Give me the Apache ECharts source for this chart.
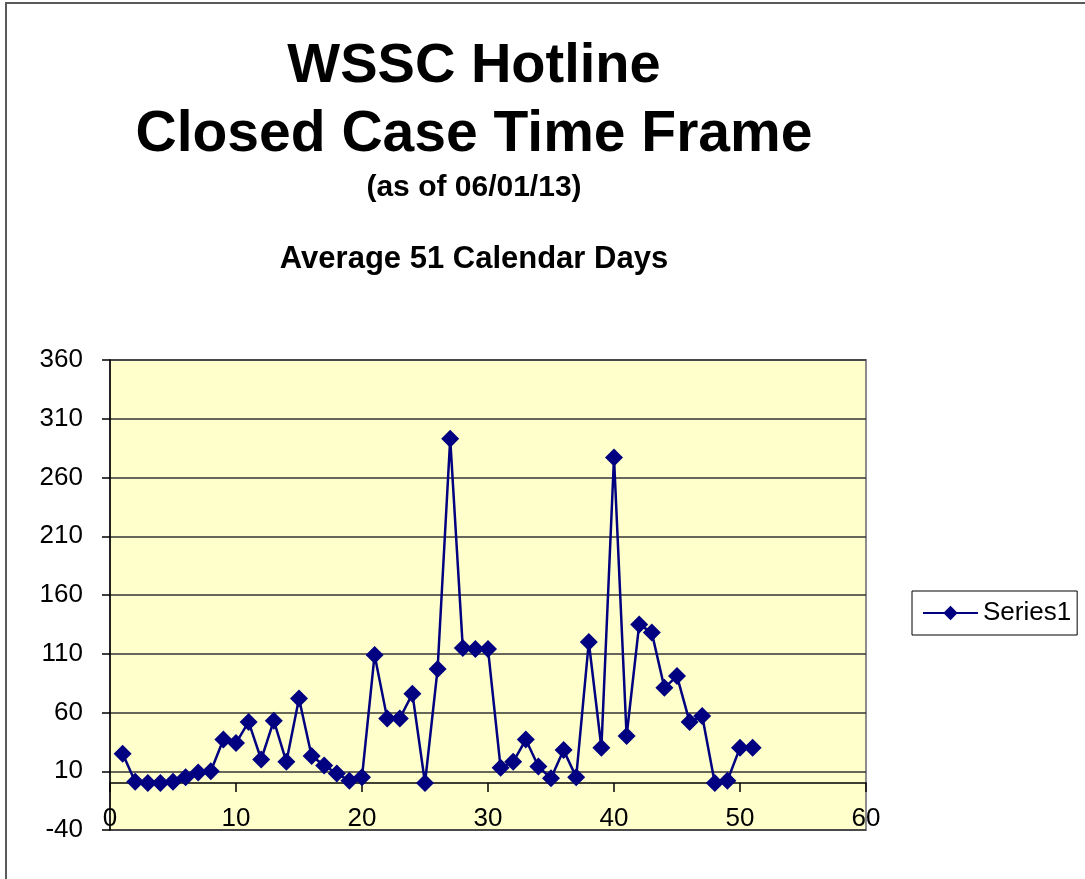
<!DOCTYPE html>
<html>
<head>
<meta charset="utf-8">
<script src="https://cdn.jsdelivr.net/npm/echarts@6/dist/echarts.min.js"></script>
<style>
  html, body { margin: 0; padding: 0; background: #fff; }
  #chartBox { width: 1085px; height: 879px; }
</style>
</head>
<body>
<div id="chartBox"></div>
<script>
// case number (x) and closed-case days (y)
const caseNo = [1, 2, 3, 4, 5, 6, 7, 8, 9, 10, 11, 12, 13, 14, 15, 16, 17, 18, 19, 20,
  21, 22, 23, 24, 25, 26, 27, 28, 29, 30, 31, 32, 33, 34, 35, 36, 37, 38, 39, 40,
  41, 42, 43, 44, 45, 46, 47, 48, 49, 50, 51]
const days = [25, 1, 0, 0, 1, 5, 9, 10, 37, 34, 52, 20, 53, 18, 72, 23, 15, 8, 2, 5,
  109, 55, 55, 76, 0, 97, 293, 115, 114, 114, 13, 18, 37, 14, 4, 28, 5, 120, 30, 277,
  40, 135, 128, 81, 91, 52, 57, 0, 2, 30, 30]

const titleLines = ['WSSC Hotline', 'Closed Case Time Frame']
const subTitle = '(as of 06/01/13)'
const avgText = 'Average 51 Calendar Days'

const font = '"Liberation Sans", Arial, sans-serif'

let myChart = echarts.init(document.getElementById('chartBox'))
myChart.setOption({
  backgroundColor: '#fff',
  animation: false,
  textStyle: { fontFamily: font },
  graphic: [
    // outer frame
    {
      type: 'rect',
      shape: { x: 6, y: 3, width: 1200, height: 1000 },
      style: { fill: 'none', stroke: '#5a5a5a', lineWidth: 2 }
    },
    {
      type: 'text',
      style: { text: titleLines[0], x: 474, y: 67, align: 'center', verticalAlign: 'middle', font: 'bold 56px ' + font, fill: '#000' }
    },
    {
      type: 'text',
      style: { text: titleLines[1], x: 474, y: 135, align: 'center', verticalAlign: 'middle', font: 'bold 57px ' + font, fill: '#000' }
    },
    {
      type: 'text',
      style: { text: subTitle, x: 474, y: 188, align: 'center', verticalAlign: 'middle', font: 'bold 30px ' + font, fill: '#000' }
    },
    {
      type: 'text',
      style: { text: avgText, x: 474, y: 259, align: 'center', verticalAlign: 'middle', font: 'bold 31px ' + font, fill: '#000' }
    }
  ],
  legend: {
    left: 912,
    top: 591,
    orient: 'vertical',
    borderColor: '#000',
    borderWidth: 1,
    padding: [9, 6, 9, 10],
    itemWidth: 55,
    itemHeight: 18,
    itemGap: 4,
    textStyle: { fontSize: 26, color: '#000', fontFamily: font },
    data: ['Series1']
  },
  grid: {
    left: 110,
    top: 360,
    width: 756,
    height: 470,
    show: true,
    backgroundColor: '#FFFFCC',
    borderColor: '#8c8c8c',
    borderWidth: 2
  },
  xAxis: {
    type: 'value',
    min: 0,
    max: 60,
    interval: 10,
    axisLine: { show: true, onZero: true, lineStyle: { color: '#000', width: 1.5 } },
    axisTick: { show: true, inside: false, length: 9, lineStyle: { color: '#000', width: 1.5 } },
    axisLabel: { margin: -24, fontSize: 26, color: '#000', fontFamily: font },
    splitLine: { show: false }
  },
  yAxis: {
    type: 'value',
    min: -40,
    max: 360,
    interval: 50,
    axisLine: { show: true, onZero: false, lineStyle: { color: '#000', width: 1.5 } },
    axisTick: { show: true, inside: false, length: 8, lineStyle: { color: '#000', width: 1.5 } },
    axisLabel: { margin: 27, fontSize: 26, color: '#000', fontFamily: font },
    splitLine: { show: true, lineStyle: { color: '#333', width: 1.5 } }
  },
  series: [
    {
      name: 'Series1',
      type: 'line',
      symbol: 'diamond',
      symbolSize: 18,
      itemStyle: { color: '#000080' },
      lineStyle: { color: '#000080', width: 2.5 },
      data: caseNo.map((x, i) => [x, days[i]])
    }
  ]
})
</script>
</body>
</html>
